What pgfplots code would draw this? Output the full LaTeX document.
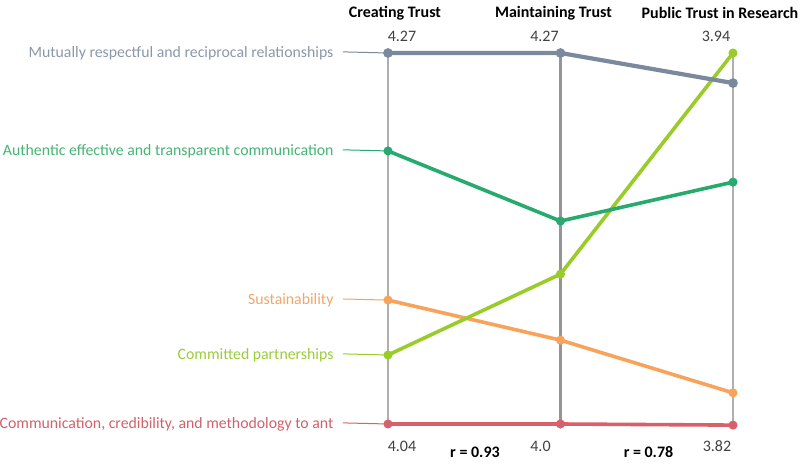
\documentclass[border=0pt]{standalone}
\usepackage{pgfplots}
\pgfplotsset{compat=1.18}
\usepackage{fontspec}
\setmainfont{Carlito}
\definecolor{cMut}{RGB}{122,137,156}
\definecolor{cMutT}{RGB}{138,152,170}
\definecolor{cAut}{RGB}{38,170,110}
\definecolor{cAutT}{RGB}{70,180,115}
\definecolor{cSus}{RGB}{247,163,92}
\definecolor{cSusT}{RGB}{242,166,106}
\definecolor{cCom}{RGB}{153,204,40}
\definecolor{cComT}{RGB}{154,205,58}
\definecolor{cCre}{RGB}{217,96,104}
\definecolor{cCreT}{RGB}{208,96,106}
\definecolor{cMark}{RGB}{100,130,200}
\definecolor{cAx}{RGB}{175,175,175}
\begin{document}
\begin{tikzpicture}
\path[use as bounding box] (-388pt,-41pt) rectangle (412pt,424pt);
\begin{axis}[
  scale only axis, width=345pt, height=371pt,
  xmin=0, xmax=2, ymin=0, ymax=1,
  hide axis, clip=false,
  every axis plot/.append style={mark=*, mark size=2.6pt, mark options={draw=cMark, line width=0.8pt}},
]
% vertical axes
\draw[cAx, line width=2.2pt] (axis cs:0,0) -- (axis cs:0,1);
\draw[cAx!85!black, line width=2.6pt] (axis cs:1,0) -- (axis cs:1,1);
\draw[cAx, line width=2.2pt] (axis cs:2,0) -- (axis cs:2,1);
% label tick lines
\draw[cMut, line width=1pt] (axis cs:0,1) -- ++(-45pt,0);
\draw[cAut, line width=1pt] (axis cs:0,0.736) -- ++(-45pt,0);
\draw[cSus, line width=1pt] (axis cs:0,0.334) -- ++(-45pt,0);
\draw[cCom, line width=1pt] (axis cs:0,0.186) -- ++(-45pt,0);
\draw[cCre, line width=1pt] (axis cs:0,0) -- ++(-45pt,0);
% series
\addplot[cCre, line width=3.6pt, mark options={fill=cMark}] coordinates {(0,0) (1,0) (2,-0.003)};
\addplot[cSus, line width=3.6pt, mark options={fill=cSus}] coordinates {(0,0.334) (1,0.226) (2,0.084)};
\addplot[cCom, line width=3.6pt, mark options={fill=cCom}] coordinates {(0,0.186) (1,0.404) (2,1.0)};
\addplot[cAut, line width=3.6pt, mark options={fill=cMark}] coordinates {(0,0.736) (1,0.547) (2,0.652)};
\addplot[cMut, line width=4.2pt, mark options={fill=cMark}] coordinates {(0,1) (1,1) (2,0.919)};
% labels
\begin{scope}[font=\fontsize{15.8}{18}\selectfont]
\node[anchor=east, text=cMutT] at ([xshift=-51pt]axis cs:0,1) {Mutually respectful and reciprocal relationships};
\node[anchor=east, text=cAutT] at ([xshift=-51pt]axis cs:0,0.736) {Authentic effective and transparent communication};
\node[anchor=east, text=cSusT] at ([xshift=-51pt]axis cs:0,0.334) {Sustainability};
\node[anchor=east, text=cComT] at ([xshift=-51pt]axis cs:0,0.186) {Committed partnerships};
\node[anchor=east, text=cCreT] at ([xshift=-51pt]axis cs:0,0) {Communication, credibility, and methodology to ant};
\end{scope}
\begin{scope}[font=\fontsize{16}{18}\selectfont\bfseries]
\node at ([xshift=7pt,yshift=411pt]axis cs:0,0) {Creating Trust};
\node at ([xshift=-7pt,yshift=411pt]axis cs:1,0) {Maintaining Trust};
\node at ([xshift=-13pt,yshift=411pt]axis cs:2,0) {Public Trust in Research};
\node at ([xshift=87pt,yshift=-28pt]axis cs:0,0) {r = 0.93};
\node at ([xshift=88pt,yshift=-28pt]axis cs:1,0) {r = 0.78};
\end{scope}
\begin{scope}[font=\fontsize{16}{18}\selectfont, text=black!75]
\node at ([xshift=14pt,yshift=17pt]axis cs:0,1) {4.27};
\node at ([xshift=-16pt,yshift=17pt]axis cs:1,1) {4.27};
\node at ([xshift=-17pt,yshift=17pt]axis cs:2,1) {3.94};
\node at ([xshift=14pt,yshift=-22pt]axis cs:0,0) {4.04};
\node at ([xshift=-20pt,yshift=-22pt]axis cs:1,0) {4.0};
\node at ([xshift=-16pt,yshift=-22pt]axis cs:2,0) {3.82};
\end{scope}
\end{axis}
\end{tikzpicture}
\end{document}
